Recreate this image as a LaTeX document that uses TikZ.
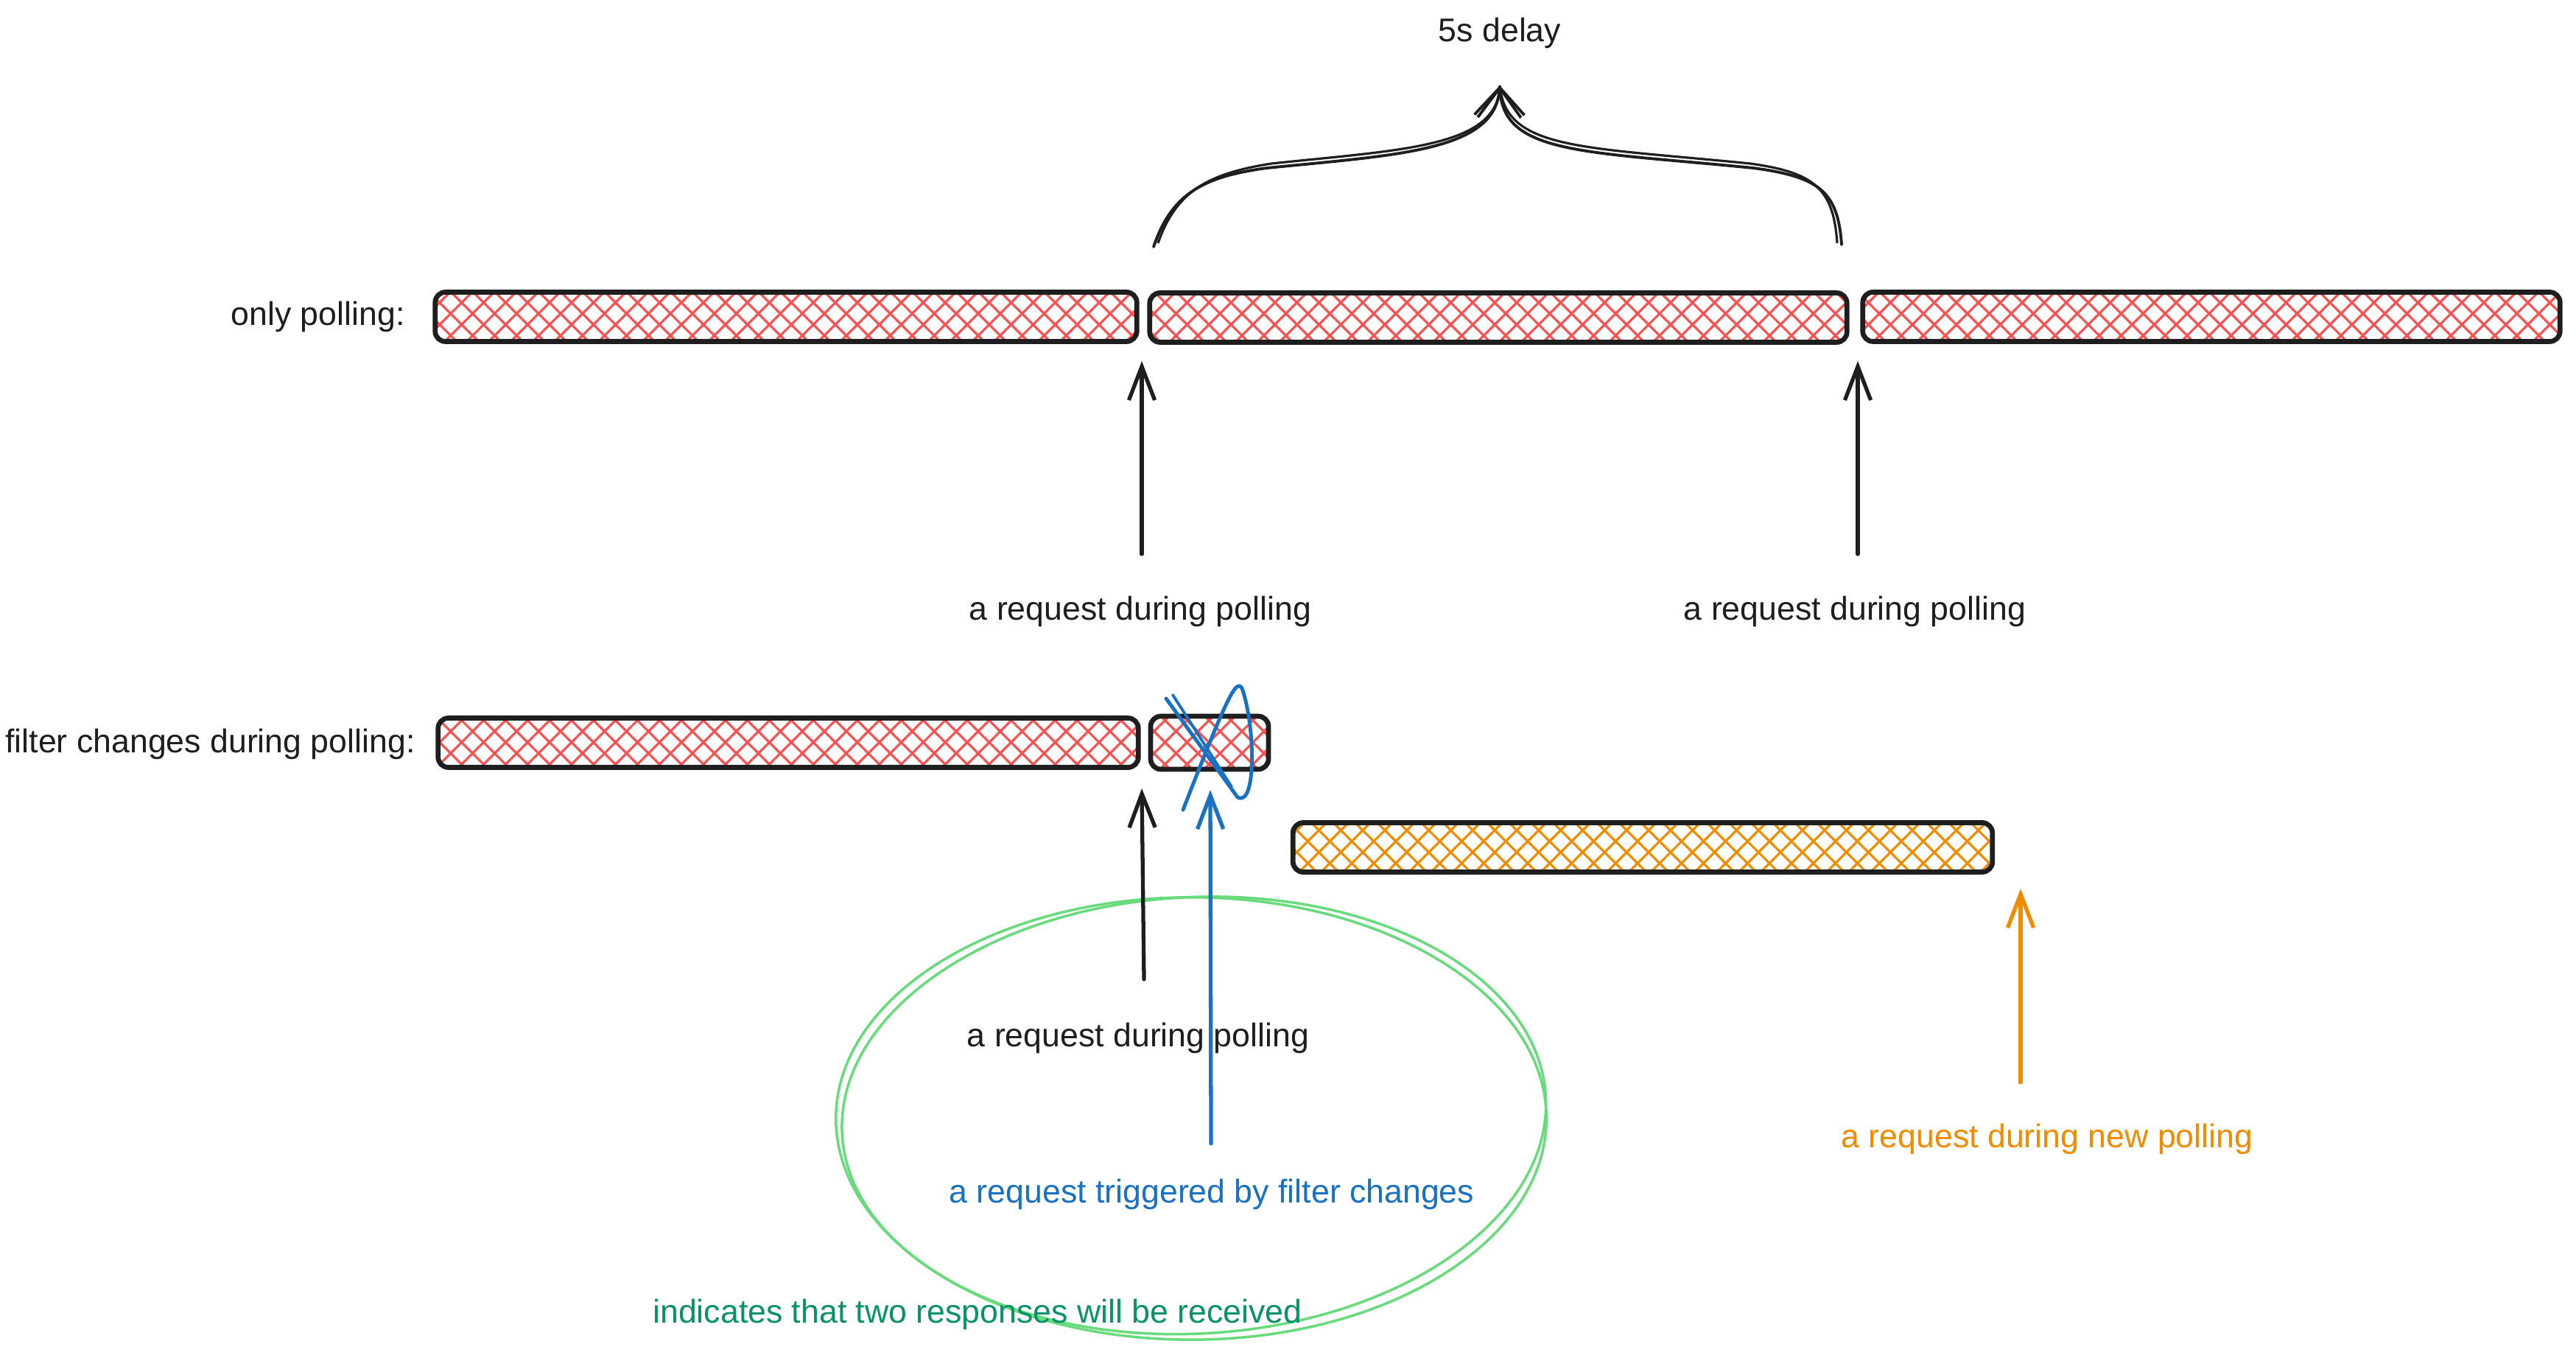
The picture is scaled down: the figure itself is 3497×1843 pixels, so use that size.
\documentclass[tikz,border=0pt]{standalone}
\usepackage{fontspec}
\setmainfont{Liberation Sans}
\usetikzlibrary{arrows.meta, patterns.meta}

\definecolor{ink}{HTML}{1E1E1E}
\definecolor{pollred}{HTML}{FA5252}
\definecolor{neworange}{HTML}{F08C00}
\definecolor{filterblue}{HTML}{1971C2}
\definecolor{ringgreen}{HTML}{69DB7C}
\definecolor{notegreen}{HTML}{099268}

\begin{document}
\begin{tikzpicture}[
		x=0.01cm, y=-0.01cm,
		txt/.style={font=\fontsize{12.7}{15}\selectfont, text=ink},
		bar/.style={draw=ink, line width=1.9pt, rounded corners=4pt, inner sep=0pt,
			minimum height=0.67cm, pattern={Hatch[angle=45, distance=6pt, line width=0.9pt]},
			pattern color=pollred},
		req/.style={ink, line width=1.5pt, line cap=round,
			-{Straight Barb[length=13pt, width=10pt]}},
		brace/.style={ink, line width=1.1pt, line cap=round,
			-{Straight Barb[length=11pt, width=18pt]}},
		ring/.style={draw=ringgreen, line width=1pt}
		]
		
		% ==========================================
		% 1. Only polling
		% ==========================================
		\useasboundingbox (0,0) rectangle (3497,1843);
		\node[txt, anchor=east] (lonly) at (562,430) {only polling:};
		
		\node[bar, minimum width=9.52cm] (poll1) at (1067,430) {};
		\node[bar, minimum width=9.46cm] (poll2) at (2034,431) {};
		\node[bar, minimum width=9.46cm] (poll3) at (3002,430) {};
		
		% 5s delay brace
		\node[txt] (delay) at (2036,45) {5s delay};
		\coordinate (dl) at (1566,335);
		\coordinate (dr) at (2500,332);
		\coordinate (dtip) at (2036,116);
		\draw[brace] (dl) .. controls (1590,265) and (1630,240) .. (1720,228)
		.. controls (1900,210) and (2030,205) .. (dtip);
		\draw[brace] (dr) .. controls (2495,260) and (2470,240) .. (2380,228)
		.. controls (2150,205) and (2040,210) .. (dtip);
		\draw[ink, line width=0.9pt] (1572,330) .. controls (1596,262) and (1636,236) .. (1726,222)
		.. controls (1905,203) and (2034,200) .. (dtip);
		\draw[ink, line width=0.9pt] (2494,330) .. controls (2489,255) and (2462,234) .. (2376,222)
		.. controls (2148,199) and (2044,204) .. (dtip);
		
		% Requests
		\node[txt] (req1) at (1548,830) {a request during polling};
		\node[txt] (req2) at (2518,830) {a request during polling};
		\coordinate (r1) at (1550,752);
		\coordinate (r1tip) at (1550,490);
		\coordinate (r2) at (2522,752);
		\coordinate (r2tip) at (2522,490);
		\draw[req] (r1) -- (r1tip);
		\draw[req] (r2) -- (r2tip);
		
		
		% ==========================================
		% 2. Filter changes during polling
		% ==========================================
		\node[txt, anchor=east] (lfilter) at (576,1010) {filter changes during polling:};
		
		\node[bar, minimum width=9.50cm] (fpoll1) at (1070,1008) {};
		\node[bar, minimum width=1.60cm, minimum height=0.72cm] (fpoll2) at (1642,1008) {};
		\node[bar, minimum width=9.49cm, pattern color=neworange] (npoll) at (2230,1150) {};
		
		% cancelled poll
		\draw[filterblue, line width=1.4pt, line cap=round] (1583,948) -- (1680,1082)
		.. controls (1706,1096) and (1704,985) .. (1686,934)
		.. controls (1678,922) and (1668,940) .. (1606,1099);
		\draw[filterblue, line width=1.1pt, line cap=round] (1592,943) -- (1672,1068);
		
		% the two responses
		\draw[ring] (1617,1518) ellipse [x radius=4.82cm, y radius=3cm];
		\draw[ring, rotate around={3:(1617,1518)}] (1621,1514) ellipse [x radius=4.78cm, y radius=2.96cm];
		
		\node[txt] (req3) at (1545,1409) {a request during polling};
		\node[txt, text=filterblue] (reqf) at (1645,1621) {a request triggered by filter changes};
		\node[txt, text=notegreen] (note) at (1327,1784) {indicates that two responses will be received};
		\node[txt, text=neworange] (reqn) at (2779,1546) {a request during new polling};
		
		\coordinate (r3) at (1553,1329);
		\coordinate (r3tip) at (1550,1070);
		\coordinate (rf) at (1644,1552);
		\coordinate (rftip) at (1643,1072);
		\coordinate (rn) at (2743,1469);
		\coordinate (rntip) at (2743,1206);
		\draw[req] (r3) -- (r3tip);
		\draw[req, filterblue] (rf) -- (rftip);
		\draw[req, neworange] (rn) -- (rntip);
		
	\end{tikzpicture}
\end{document}
